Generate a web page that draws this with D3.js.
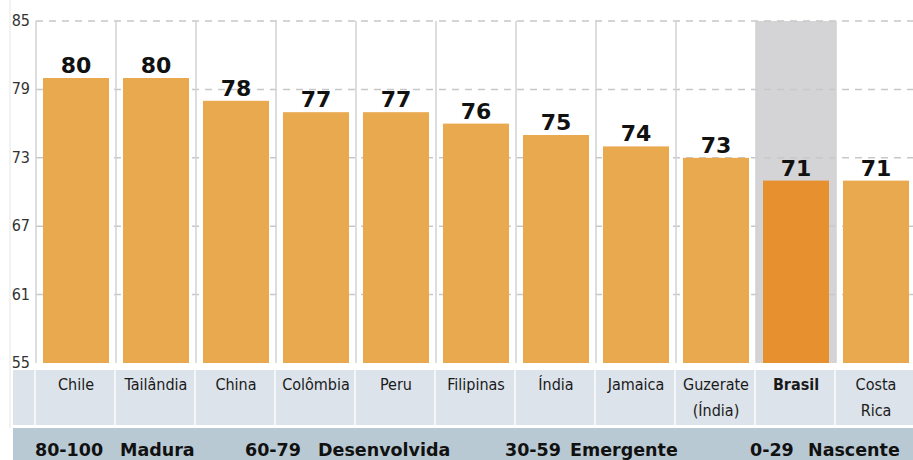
<!DOCTYPE html>
<html lang="pt">
  <head>
    <meta charset="utf-8">
    <title>Maturidade</title>
    <script src="https://d3js.org/d3.v7.min.js"></script>
    <style>
      body { margin: 0; background: white; }
      text { font-family: "Liberation Sans Narrow", "DejaVu Sans Condensed", sans-serif; }
      .val { font-family: "DejaVu Sans", sans-serif; font-weight: bold; }
      .leg { font-family: "DejaVu Sans", sans-serif; font-weight: bold; }
    </style>
  </head>
  <body>
    <svg width="913" height="460"></svg>
    <script>
      var countries = ["Chile", "Tailândia", "China", "Colômbia", "Peru", "Filipinas",
        "Índia", "Jamaica", "Guzerate\n(Índia)", "Brasil", "Costa\nRica"];
      var values = [80, 80, 78, 77, 77, 76, 75, 74, 73, 71, 71];
      var highlight = "Brasil";
      var yTicks = [55, 61, 67, 73, 79, 85];
      var legendRanges = ["80-100", "60-79", "30-59", "0-29"];
      var legendNames = ["Madura", "Desenvolvida", "Emergente", "Nascente"];

      var svg = d3.select("svg");
      var plotTop = 21, base = 363, left = 36, colW = 80;

      var x = d3.scaleBand().domain(countries)
        .range([left, left + colW * countries.length]).padding(0);
      var y = d3.scaleLinear().domain([55, 85]).range([base, plotTop]);
      var inset = 7;

      // faint left border
      svg.append("line").attr("x1", 10).attr("x2", 10).attr("y1", 0).attr("y2", 428)
        .attr("stroke", "#e6e6e6");

      // highlight column
      svg.append("rect").attr("x", x(highlight)).attr("y", plotTop)
        .attr("width", x.bandwidth()).attr("height", base - plotTop)
        .attr("fill", "#d4d4d7");

      // dashed gridlines
      svg.append("g").selectAll("line").data(yTicks.filter(function(d) { return d > 55; }))
        .join("line")
        .attr("x1", left).attr("x2", 913)
        .attr("y1", function(d) { return y(d); }).attr("y2", function(d) { return y(d); })
        .attr("stroke", "#c8c8c8").attr("stroke-width", 1.5)
        .attr("stroke-dasharray", "7,6");

      // column separators
      svg.append("g").selectAll("line").data(countries)
        .join("line")
        .attr("x1", function(d) { return x(d); }).attr("x2", function(d) { return x(d); })
        .attr("y1", plotTop).attr("y2", base)
        .attr("stroke", "#d2d2d2").attr("stroke-width", 1.5);

      // y labels
      svg.append("g").selectAll("text").data(yTicks)
        .join("text")
        .attr("x", 30).attr("y", function(d) { return y(d) + 5; })
        .attr("text-anchor", "end").attr("font-size", 16).attr("fill", "#333")
        .text(function(d) { return d; });

      // bars
      svg.append("g").selectAll("rect").data(values)
        .join("rect")
        .attr("x", function(d, i) { return x(countries[i]) + inset; })
        .attr("width", x.bandwidth() - 2 * inset)
        .attr("y", function(d) { return y(d); })
        .attr("height", function(d) { return base - y(d); })
        .attr("fill", function(d, i) { return countries[i] == highlight ? "#e6902f" : "#e9a94f"; });

      // value labels
      svg.append("g").selectAll("text").data(values)
        .join("text").attr("class", "val")
        .attr("x", function(d, i) { return x(countries[i]) + x.bandwidth() / 2; })
        .attr("y", function(d) { return y(d) - 5; })
        .attr("text-anchor", "middle").attr("font-size", 22).attr("fill", "#111")
        .text(function(d) { return d; });

      // category band
      svg.append("rect").attr("x", 13).attr("y", 370).attr("width", 900).attr("height", 55)
        .attr("fill", "#dde3ea");
      svg.append("g").selectAll("line").data(countries)
        .join("line")
        .attr("x1", function(d) { return x(d) - 1; }).attr("x2", function(d) { return x(d) - 1; })
        .attr("y1", 370).attr("y2", 425)
        .attr("stroke", "#f4f6f8").attr("stroke-width", 2);

      var cat = svg.append("g").selectAll("text").data(countries)
        .join("text")
        .attr("x", function(d) { return x(d) + x.bandwidth() / 2; })
        .attr("y", 390)
        .attr("text-anchor", "middle").attr("font-size", 16).attr("fill", "#1a1a1a")
        .attr("font-weight", function(d) { return d == highlight ? "bold" : "normal"; });
      cat.selectAll("tspan").data(function(d) { return d.split("\n"); })
        .join("tspan")
        .attr("x", function() { return d3.select(this.parentNode).attr("x"); })
        .attr("dy", function(d, i) { return i ? 26 : 0; })
        .text(function(d) { return d; });

      // legend band
      svg.append("rect").attr("x", 13).attr("y", 428).attr("width", 900).attr("height", 32)
        .attr("fill", "#b9c9d3");
      var legX = [35, 245, 505, 750];
      var legGap = [85, 73, 65, 58];
      legendRanges.forEach(function(r, i) {
        svg.append("text").attr("class", "leg").attr("x", legX[i]).attr("y", 456)
          .attr("font-size", 17.5).attr("fill", "#111").text(r);
        svg.append("text").attr("class", "leg").attr("x", legX[i] + legGap[i]).attr("y", 456)
          .attr("font-size", 17.5).attr("fill", "#111").text(legendNames[i]);
      });
    </script>
  </body>
</html>
